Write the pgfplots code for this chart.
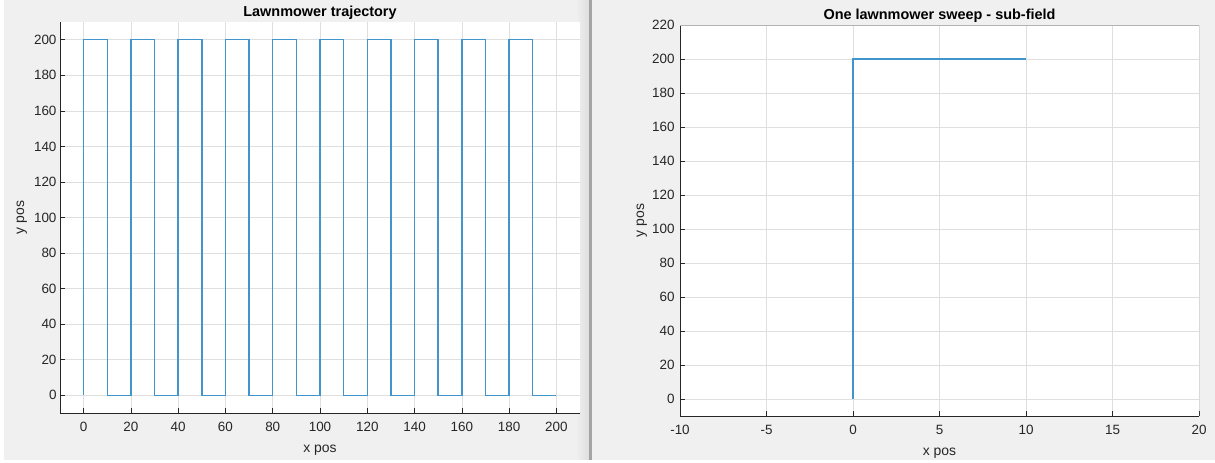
\documentclass[border=0pt]{standalone}
\usepackage{fontspec}
\setmainfont{Liberation Sans}
\usepackage{pgfplots}
\pgfplotsset{compat=1.18}

\definecolor{figbg}{HTML}{F0F0F0}
\definecolor{axcol}{HTML}{262626}
\definecolor{gridcol}{HTML}{DFDFDF}
\definecolor{mlblue}{HTML}{0072BD}
\definecolor{divcol}{HTML}{A4A4A4}

% Trajectory of the full lawnmower pattern
\pgfplotstableread{
x y
0 0
0 200
10 200
10 0
20 0
20 200
30 200
30 0
40 0
40 200
50 200
50 0
60 0
60 200
70 200
70 0
80 0
80 200
90 200
90 0
100 0
100 200
110 200
110 0
120 0
120 200
130 200
130 0
140 0
140 200
150 200
150 0
160 0
160 200
170 200
170 0
180 0
180 200
190 200
190 0
200 0
}\fulltraj

% A single sweep over the sub-field
\pgfplotstableread{
x y
0 0
0 200
10 200
}\onesweep

\pgfplotsset{
  mlaxis/.style={
    scale only axis,
    anchor=south west,
    axis background/.style={fill=white},
    axis lines*=left,
    axis line style={axcol, line width=0.6bp},
    tick style={axcol, line width=0.6bp},
    tick align=inside,
    major tick length=5bp,
    grid=major,
    major grid style={gridcol, line width=0.6bp},
    tick label style={font=\fontsize{13.5}{15}\selectfont, text=axcol},
    /pgf/number format/assume math mode=true,
    /pgf/number format/1000 sep={},
    every axis title shift=0pt,
    title style={font=\fontsize{14.5}{17}\selectfont\bfseries, text=black,
                 at={(0.5,1)}, anchor=base, yshift=5bp},
    xticklabel style={yshift=-6bp},
    every axis x label/.style={at={(axis description cs:0.5,0)}, anchor=base,
                 yshift=-39bp, font=\fontsize{14}{16}\selectfont, text=axcol},
    every axis y label/.style={at={(axis description cs:0,0.5)}, xshift=-36bp,
                 rotate=90, anchor=base, font=\fontsize{14}{16}\selectfont, text=axcol},
  },
  trajline/.style={draw=mlblue!75!white, line width=1.45bp, mark=none},
}

\begin{document}
\begin{tikzpicture}
  \path[use as bounding box] (0,0) rectangle (1215bp,463bp);
  % window backgrounds
  \fill[white] (0,0) rectangle (1215bp,463bp);
  \fill[figbg] (4bp,3bp) rectangle (1215bp,463bp);
  \shade[left color=figbg, right color=black!13] (576bp,3bp) rectangle (589bp,463bp);
  \fill[divcol] (589bp,3bp) rectangle (592bp,463bp);

  % left figure
  \begin{axis}[mlaxis,
    at={(60bp,50bp)}, width=520bp, height=391bp,
    xmin=-10, xmax=210, ymin=-10, ymax=210,
    xtick={0,20,...,200}, ytick={0,20,...,200},
    title={Lawnmower trajectory},
    xlabel={x pos}, ylabel={y pos},
  ]
    \addplot[trajline] table[x=x, y=y] {\fulltraj};
  \end{axis}

  % right figure
  \begin{axis}[mlaxis,
    at={(680bp,47bp)}, width=519bp, height=391bp,
    xmin=-10, xmax=20, ymin=-10, ymax=220,
    xtick={-10,-5,...,20}, ytick={0,20,...,220},
    yticklabel style={xshift=-2bp},
    title={One lawnmower sweep - sub-field},
    xlabel={x pos}, ylabel={y pos},
  ]
    \addplot[trajline] table[x=x, y=y] {\onesweep};
    \draw[black!30, line width=0.6bp] (rel axis cs:0,1) -- (rel axis cs:1,1) -- (rel axis cs:1,0);
  \end{axis}
\end{tikzpicture}
\end{document}
